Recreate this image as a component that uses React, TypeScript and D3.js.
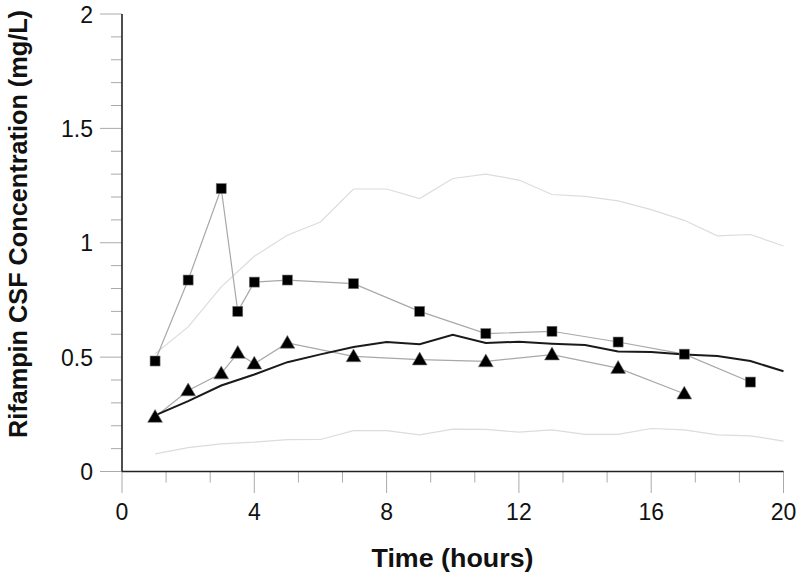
import React from "react";
import * as d3 from "d3";

const hours = [1, 2, 3, 4, 5, 6, 7, 8, 9, 10, 11, 12, 13, 14, 15, 16, 17, 18, 19, 20];
const meanPred = [0.245, 0.308, 0.376, 0.424, 0.478, 0.512, 0.544, 0.566, 0.556, 0.598, 0.562, 0.567, 0.559, 0.553, 0.525, 0.522, 0.512, 0.505, 0.483, 0.438];
const upperPred = [0.515, 0.632, 0.807, 0.941, 1.033, 1.091, 1.235, 1.235, 1.193, 1.281, 1.3, 1.274, 1.211, 1.203, 1.183, 1.145, 1.098, 1.03, 1.036, 0.986];
const lowerPred = [0.077, 0.104, 0.121, 0.128, 0.139, 0.14, 0.179, 0.179, 0.16, 0.185, 0.184, 0.172, 0.182, 0.162, 0.162, 0.188, 0.182, 0.16, 0.156, 0.133];

const squareTimes = [1, 2, 3, 3.5, 4, 5, 7, 9, 11, 13, 15, 17, 19];
const squareValues = [0.483, 0.837, 1.237, 0.7, 0.828, 0.837, 0.821, 0.7, 0.603, 0.613, 0.566, 0.513, 0.391];

const triangleTimes = [1, 2, 3, 3.5, 4, 5, 7, 9, 11, 13, 15, 17];
const triangleValues = [0.238, 0.354, 0.428, 0.518, 0.471, 0.562, 0.503, 0.489, 0.481, 0.511, 0.452, 0.34];

const xMajorTicks = [0, 4, 8, 12, 16, 20];
const yMajorTicks = [0, 0.5, 1, 1.5, 2];
const yTickLabels = ["0", "0.5", "1", "1.5", "2"];

const W = 800;
const H = 576;
const FONT = "'Liberation Sans', Arial, sans-serif";

export default function App() {
  const x = d3.scaleLinear().domain([0, 20]).range([122, 783.5]);
  const y = d3.scaleLinear().domain([0, 2]).range([471.5, 14]);

  const xMinor = d3.range(0, 20.001, 4 / 3).filter((v) => !xMajorTicks.some((m) => Math.abs(m - v) < 1e-6));
  const yMinor = d3.range(0, 2.0001, 0.1).filter((v) => !yMajorTicks.some((m) => Math.abs(m - v) < 1e-6));

  const line = d3
    .line<[number, number]>()
    .x((d) => x(d[0]))
    .y((d) => y(d[1]));

  const zip = (a: number[], b: number[]) => a.map((v, i) => [v, b[i]] as [number, number]);

  const tri = d3.symbol().type(d3.symbolTriangle).size(95)();

  return (
    <svg width={W} height={H} style={{ position: "absolute", left: 0, top: 0, background: "#fff" }}>
      <rect x={0} y={0} width={W} height={H} fill="#fff" />
      {/* percentile lines */}
      <path d={line(zip(hours, upperPred)) || ""} fill="none" stroke="#dcdcdc" strokeWidth={1.2} />
      <path d={line(zip(hours, lowerPred)) || ""} fill="none" stroke="#dcdcdc" strokeWidth={1.2} />
      {/* observed lines */}
      <path d={line(zip(squareTimes, squareValues)) || ""} fill="none" stroke="#a8a8a8" strokeWidth={1.2} />
      <path d={line(zip(triangleTimes, triangleValues)) || ""} fill="none" stroke="#a8a8a8" strokeWidth={1.2} />
      {/* mean */}
      <path d={line(zip(hours, meanPred)) || ""} fill="none" stroke="#1a1a1a" strokeWidth={2} />
      {/* markers */}
      {squareTimes.map((t, i) => (
        <rect key={"s" + i} x={x(t) - 5} y={y(squareValues[i]) - 5} width={10} height={10} fill="#000" stroke="#777" strokeWidth={0.6} />
      ))}
      {triangleTimes.map((t, i) => (
        <path key={"t" + i} d={tri || ""} transform={`translate(${x(t)},${y(triangleValues[i]) + 1})`} fill="#000" stroke="#777" strokeWidth={0.6} />
      ))}
      {/* axes ticks */}
      {xMajorTicks.map((t) => (
        <line key={"xm" + t} x1={x(t)} x2={x(t)} y1={471.5} y2={493} stroke="#aaa" strokeWidth={1} />
      ))}
      {xMinor.map((t, i) => (
        <line key={"xn" + i} x1={x(t)} x2={x(t)} y1={471.5} y2={482.5} stroke="#aaa" strokeWidth={1} />
      ))}
      {yMajorTicks.map((t) => (
        <line key={"ym" + t} x1={100} x2={122} y1={y(t)} y2={y(t)} stroke="#aaa" strokeWidth={1} />
      ))}
      {yMinor.map((t, i) => (
        <line key={"yn" + i} x1={111} x2={122} y1={y(t)} y2={y(t)} stroke="#aaa" strokeWidth={1} />
      ))}
      <line x1={122} x2={122} y1={14} y2={471.5} stroke="#222" strokeWidth={1.6} />
      <line x1={122} x2={783.5} y1={471.5} y2={471.5} stroke="#222" strokeWidth={1.6} />
      {/* tick labels */}
      {xMajorTicks.map((t) => (
        <text key={"xl" + t} x={x(t)} y={520} textAnchor="middle" fontFamily={FONT} fontSize={23} fill="#111">
          {String(t)}
        </text>
      ))}
      {yMajorTicks.map((t, i) => (
        <text key={"yl" + t} x={93} y={y(t) + 8.5} textAnchor="end" fontFamily={FONT} fontSize={23} fill="#111">
          {yTickLabels[i]}
        </text>
      ))}
      {/* axis titles */}
      <text
        x={452.5}
        y={567}
        textAnchor="middle"
        fontFamily={FONT}
        fontSize={26}
        fontWeight="bold"
        fill="#111"
        textLength={162}
        lengthAdjust="spacingAndGlyphs"
      >
        Time (hours)
      </text>
      <text
        transform={`translate(27,224) rotate(-90)`}
        textAnchor="middle"
        fontFamily={FONT}
        fontSize={25}
        fontWeight="bold"
        fill="#111"
        textLength={428}
        lengthAdjust="spacingAndGlyphs"
      >
        Rifampin CSF Concentration (mg/L)
      </text>
    </svg>
  );
}
